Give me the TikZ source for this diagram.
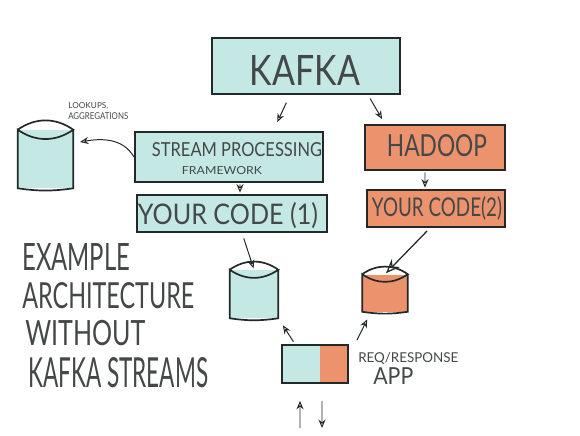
\documentclass[tikz,border=0pt]{standalone}
\usepackage{fontspec}
\setmainfont{Lato}
\usetikzlibrary{arrows.meta}
\definecolor{skteal}{RGB}{196,232,228}
\definecolor{skorange}{RGB}{236,146,108}
\definecolor{ink}{RGB}{35,40,40}
\newcommand{\hand}[3]{\resizebox{#1}{#2}{#3}}
\newcommand{\bucket}[1]{\draw[dbline] (#1.north west) to[bend left=35] (#1.north east)
  to[bend left=35] (#1.north west) -- (#1.south west) to[bend right=8] (#1.south east) -- (#1.north east);}
\begin{document}
\begin{tikzpicture}[x=0.025cm,y=-0.025cm,
	box/.style={draw=ink,line width=1.4pt,inner sep=0pt},
	dbfill/.style={inner sep=0pt},
	dbline/.style={draw=ink,line width=1.2pt},
	lbl/.style={inner sep=0pt,text=ink!85},
	arr/.style={draw=ink,line width=0.7pt,-{Stealth[open,length=6pt,width=5pt]}},
	bigarr/.style={draw=ink,line width=0.9pt,-{Stealth[open,length=10pt,width=8pt]}}]
	\useasboundingbox[fill=white] (0,0) rectangle (580,435);
	
	\node[box,fill=skteal,minimum width=4.68cm,minimum height=1.4cm] (kafka) at (306,66) {};
	\node[box,fill=skteal,minimum width=4.7cm,minimum height=1.25cm] (stream) at (229,157) {};
	\node[box,fill=skteal,minimum width=4.75cm,minimum height=0.925cm] (code1) at (232,213.5) {};
	\node[box,fill=skorange,minimum width=3.5cm,minimum height=1.125cm] (hadoop) at (435,147.5) {};
	\node[box,fill=skorange,minimum width=3.45cm,minimum height=0.925cm] (code2) at (436,208.5) {};
	\node[box,fill=skteal,minimum width=1.65cm,minimum height=0.95cm,
		path picture={\fill[skorange] ([xshift=-0.7cm]path picture bounding box.north east)
			rectangle (path picture bounding box.south east);}] (app) at (315,364) {};
	
	\node[dbfill,fill=skteal,minimum width=1.375cm,minimum height=1.45cm] (db0) at (45.5,159) {};
	\node[dbfill,fill=skteal,minimum width=1.2cm,minimum height=1.2cm] (db1) at (254,294) {};
	\node[dbfill,fill=skorange,minimum width=1.125cm,minimum height=0.925cm] (db2) at (385,293) {};
	\bucket{db0}
	\bucket{db1}
	\bucket{db2}
	
	% box texts
	\node[lbl] (kafkatxt) at (305,70) {\hand{2.75cm}{0.75cm}{KAFKA}};
	\node[lbl] (streamtxt) at (237,150) {\hand{4.25cm}{0.35cm}{STREAM PROCESSING}};
	\node[lbl] (frametxt) at (222,171) {\hand{2cm}{0.2cm}{FRAMEWORK}};
	\node[lbl] (code1txt) at (228,216) {\hand{4.5cm}{0.55cm}{YOUR CODE (1)}};
	\node[lbl] (hadooptxt) at (437,146) {\hand{2.5cm}{0.55cm}{HADOOP}};
	\node[lbl] (code2txt) at (437,208) {\hand{3.25cm}{0.5cm}{YOUR CODE(2)}};
	
	\node[lbl,anchor=north west] (lookups) at (68,102) {\hand{1cm}{0.15cm}{LOOKUPS,}};
	\node[lbl,anchor=north west] (aggr) at (68,112) {\hand{1.5cm}{0.17cm}{AGGREGATIONS}};
	\node[lbl,anchor=north west] (req) at (358,352) {\hand{2.5cm}{0.25cm}{REQ/RESPONSE}};
	\node[lbl,anchor=north west] (apptxt) at (373,367) {\hand{1cm}{0.42cm}{APP}};
	
	\node[lbl,anchor=base west] (t1) at (22,270) {\hand{2.7cm}{0.675cm}{EXAMPLE}};
	\node[lbl,anchor=base west] (t2) at (22,308) {\hand{4.3cm}{0.65cm}{ARCHITECTURE}};
	\node[lbl,anchor=base west] (t3) at (25,345) {\hand{3cm}{0.63cm}{WITHOUT}};
	\node[lbl,anchor=base west] (t4) at (28,387) {\hand{4.5cm}{0.75cm}{KAFKA STREAMS}};
	
	\coordinate (lk) at (80,142);
	\coordinate (inlo) at (300,428);
	\coordinate (outlo) at (322,428);
	
	% connectors
	\draw[arr,shorten <=6pt,shorten >=7pt] ([xshift=-0.4cm]kafka.south) -- ([xshift=1.1cm]stream.north);
	\draw[arr,shorten <=3pt,shorten >=4pt] ([xshift=1.55cm]kafka.south) -- ([xshift=-1.25cm]hadoop.north);
	\draw[arr,shorten <=1pt,shorten >=1pt] ([xshift=0.275cm]stream.south) -- ([xshift=0.2cm]code1.north);
	\draw[arr,shorten <=1pt,shorten >=1pt] ([xshift=-0.25cm]hadoop.south) -- ([xshift=-0.275cm]code2.north);
	\draw[arr,shorten <=4pt,shorten >=1pt] ([xshift=0.25cm]code1.south) -- (db1.north);
	\draw[bigarr,shorten <=3pt,shorten >=1pt] ([xshift=-0.15cm]code2.south) -- (db2.north);
	\draw[arr,shorten <=2pt,shorten >=6pt] ([xshift=-0.5cm]app.north) -- (db1.south east);
	\draw[arr,shorten <=3pt,shorten >=6pt] ([xshift=0.15cm]app.north east) -- ([xshift=-0.35cm]db2.south);
	\draw[arr,shorten >=12pt] (inlo) -- ([xshift=-0.375cm]app.south);
	\draw[arr,shorten <=12pt] ([xshift=0.175cm]app.south) -- (outlo);
	\draw[arr] (stream.west) to[out=120,in=10] (lk);
\end{tikzpicture}
\end{document}
